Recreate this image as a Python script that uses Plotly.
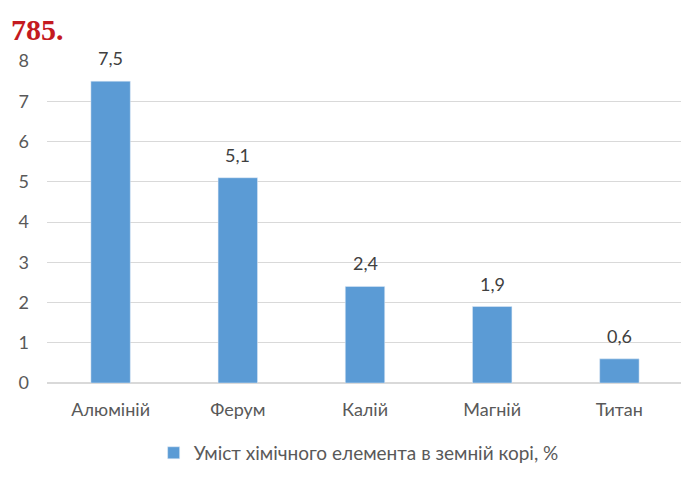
import plotly.graph_objects as go

# Дані діаграми
elements = ["Алюміній", "Ферум", "Калій", "Магній", "Титан"]
content_pct = [7.5, 5.1, 2.4, 1.9, 0.6]
series_name = "Уміст хімічного елемента в земній корі, %"

TEXT_GRAY = "#595959"
FONT = "Lato"

fig = go.Figure()

fig.add_trace(
    go.Bar(
        x=elements,
        y=content_pct,
        name=series_name,
        marker=dict(color="#5B9BD5"),
        width=0.31,
    )
)

# підписи значень над стовпцями
value_labels = [
    dict(
        x=el,
        y=val,
        text=f"{val:.1f}".replace(".", ","),
        showarrow=False,
        yanchor="bottom",
        yshift=10,
        font=dict(color="#404040", size=18, family=FONT),
    )
    for el, val in zip(elements, content_pct)
]

# сторінка має відступ 8px, тому поля трохи зсунуті
fig.update_layout(
    width=689,
    height=481,
    margin=dict(l=39, r=14, t=53, b=106, autoexpand=False),
    paper_bgcolor="white",
    plot_bgcolor="white",
    font=dict(family=FONT, color=TEXT_GRAY, size=17),
    showlegend=True,
    legend=dict(
        orientation="h",
        x=0.49,
        xanchor="center",
        yref="container",
        y=0.075,
        yanchor="middle",
        font=dict(size=19, color=TEXT_GRAY),
    ),
    xaxis=dict(
        showgrid=False,
        showline=False,
        ticks="",
        automargin=False,
        ticklabelstandoff=14,
        tickfont=dict(size=18, color=TEXT_GRAY),
    ),
    yaxis=dict(
        range=[0, 8],
        dtick=1,
        showgrid=True,
        gridcolor="#D9D9D9",
        gridwidth=1,
        zeroline=True,
        zerolinecolor="#D9D9D9",
        showline=False,
        ticks="",
        automargin=False,
        ticklabelstandoff=17,
        tickfont=dict(size=18, color=TEXT_GRAY),
    ),
    annotations=value_labels
    + [
        dict(
            text="<b>785.</b>",
            xref="paper",
            yref="paper",
            x=-0.06,
            y=1.155,
            xanchor="left",
            yanchor="top",
            showarrow=False,
            font=dict(family="Liberation Serif", size=30, color="#C41A1F"),
        )
    ],
)

fig.write_html("out.html")
